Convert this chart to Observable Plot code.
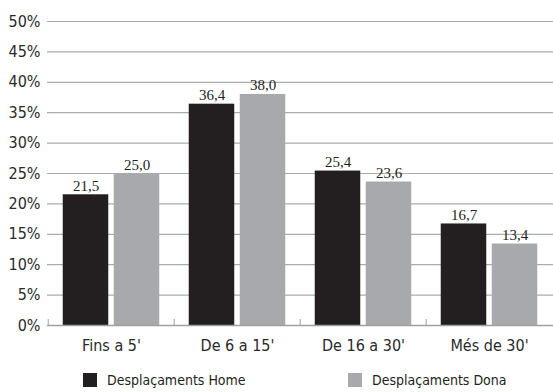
<!DOCTYPE html>
<html>
<head>
<meta charset="utf-8">
<script src="https://cdn.jsdelivr.net/npm/d3@7"></script>
<script src="https://cdn.jsdelivr.net/npm/@observablehq/plot@0.6"></script>
<style>
  html, body { margin: 0; padding: 0; background: #fff; }
  #chart { width: 553px; height: 392px; position: relative; }
  .legend { position: absolute; top: 372px; left: 0; width: 553px; height: 18px;
    font-family: "Liberation Sans Narrow", "DejaVu Sans Condensed", "Liberation Sans", sans-serif;
    font-size: 14px; color: #231f20; }
  .legend span.item { position: absolute; top: 0; display: flex; align-items: center; height: 16px; }
  .legend span.sw { display: inline-block; width: 14px; height: 14px; margin-right: 10px; }
</style>
</head>
<body>
<div id="chart"></div>
<script>
// Travel time bands and share of trips (%) for men and women
const categories = ["Fins a 5'", "De 6 a 15'", "De 16 a 30'", "Més de 30'"];
const seriesNames = ["Desplaçaments Home", "Desplaçaments Dona"];
const homeValues = [21.5, 36.4, 25.4, 16.7];
const donaValues = [25.0, 38.0, 23.6, 13.4];
const yTicks = [0, 5, 10, 15, 20, 25, 30, 35, 40, 45, 50];
const colors = ["#231f20", "#a7a9ac"];

const home = categories.map((c, i) => ({category: c, value: homeValues[i]}));
const dona = categories.map((c, i) => ({category: c, value: donaValues[i]}));

const width = 553, height = 362;
const marginLeft = 47, marginRight = 0;
const band = (width - marginLeft - marginRight) / categories.length;
const barW = 46, gap = 5;
const outer = (band - 2 * barW - gap) / 2;

const sansFont = '"Liberation Sans Narrow", "DejaVu Sans Condensed", "Liberation Sans", sans-serif';
const serifFont = '"Liberation Serif", "DejaVu Serif", serif';
const label = d => d.value.toFixed(1).replace(".", ",");

const plot = Plot.plot({
  width, height,
  marginTop: 21, marginBottom: 37, marginLeft, marginRight,
  style: {fontFamily: sansFont, fontSize: "16px", color: "#2a2a2a", background: "#fff"},
  x: {domain: categories, padding: 0, label: null, tickSize: 0, tickPadding: 14},
  y: {domain: [0, 50], ticks: yTicks, tickFormat: d => d + "%", label: null, tickSize: 0, tickPadding: 7},
  marks: [
    Plot.ruleY(yTicks.filter(d => d > 0), {stroke: "#ababab", strokeWidth: 1.2}),
    Plot.barY(home, {x: "category", y: "value", fill: colors[0], insetLeft: outer, insetRight: outer + barW + gap}),
    Plot.barY(dona, {x: "category", y: "value", fill: colors[1], insetLeft: outer + barW + gap, insetRight: outer}),
    Plot.ruleY([0], {stroke: "#a0a0a0", strokeWidth: 1.5}),
    Plot.ruleX(categories, {x: d => d, y1: 0, y2: 1, dx: -band / 2, stroke: "#b0b0b0", strokeWidth: 1.2}),
    Plot.text(home, {x: "category", y: "value", text: label, dx: -(gap + barW) / 2, dy: -4, lineAnchor: "bottom",
      fontFamily: serifFont, fontSize: 15, fill: "#231f20"}),
    Plot.text(dona, {x: "category", y: "value", text: label, dx: (gap + barW) / 2, dy: -4, lineAnchor: "bottom",
      fontFamily: serifFont, fontSize: 15, fill: "#231f20"})
  ]
});

const chart = document.getElementById("chart");
chart.appendChild(plot);

// Legend below the plot area
const legend = document.createElement("div");
legend.className = "legend";
const legendX = [83, 348];
seriesNames.forEach((name, i) => {
  const item = document.createElement("span");
  item.className = "item";
  item.style.left = legendX[i] + "px";
  const sw = document.createElement("span");
  sw.className = "sw";
  sw.style.background = colors[i];
  item.appendChild(sw);
  item.appendChild(document.createTextNode(name));
  legend.appendChild(item);
});
chart.appendChild(legend);
</script>
</body>
</html>
